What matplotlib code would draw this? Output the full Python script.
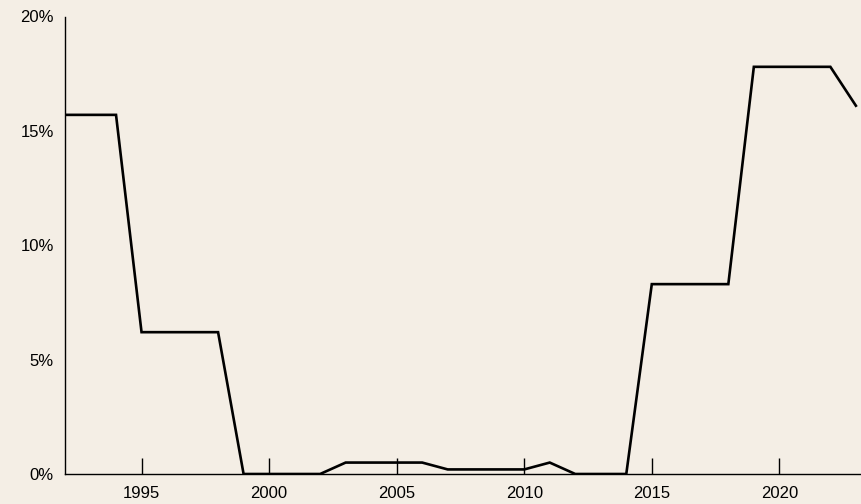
import matplotlib.pyplot as plt
from matplotlib.ticker import FuncFormatter

# Data (annual rate, %)
years = list(range(1992, 2024))
rate = [15.7, 15.7, 15.7, 6.2, 6.2, 6.2, 6.2, 0.0, 0.0, 0.0, 0.0,
        0.5, 0.5, 0.5, 0.5, 0.2, 0.2, 0.2, 0.2, 0.5, 0.0, 0.0, 0.0,
        8.3, 8.3, 8.3, 8.3, 17.8, 17.8, 17.8, 17.8, 16.1]
xticks = [1995, 2000, 2005, 2010, 2015, 2020]
yticks = [0, 5, 10, 15, 20]

bg = '#f4eee5'
plt.rcParams['font.family'] = ['Liberation Sans', 'DejaVu Sans']

fig = plt.figure(figsize=(8.61, 5.04), dpi=100, facecolor=bg)
ax = fig.add_axes([65 / 861, 30 / 504, 1 - 65 / 861, 457.5 / 504])
ax.set_facecolor(bg)

ax.plot(years, rate, color='black', linewidth=1.9, solid_joinstyle='miter')

ax.set_xlim(1992, 2023.2)
ax.set_ylim(0, 20)
ax.set_xticks(xticks)
ax.set_yticks(yticks)
ax.yaxis.set_major_formatter(FuncFormatter(lambda v, p: f'{v:.0f}%'))

for side in ['top', 'right']:
    ax.spines[side].set_visible(False)
for side in ['left', 'bottom']:
    ax.spines[side].set_linewidth(1.0)

ax.tick_params(axis='x', direction='in', length=11.5, width=1.0,
               pad=9, labelsize=12, colors='black')
ax.tick_params(axis='y', length=0, pad=8, labelsize=12)

fig.savefig('out.png', dpi=100, facecolor=bg)
